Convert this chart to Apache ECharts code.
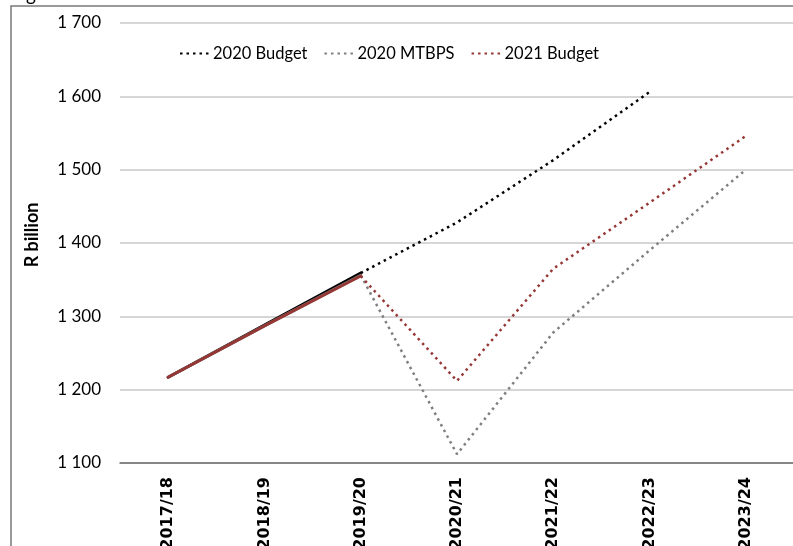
<!DOCTYPE html>
<html>
<head>
<meta charset="utf-8">
<script src="https://cdn.jsdelivr.net/npm/echarts@6/dist/echarts.min.js"></script>
<style>
  html, body { margin: 0; padding: 0; background: #fff; }
  #chart { width: 793px; height: 546px; }
</style>
</head>
<body>
<div id="chart"></div>
<script>
// Fiscal years on the category axis
const years = ['2017/18', '2018/19', '2019/20', '2020/21', '2021/22', '2022/23', '2023/24'];

// Outcomes (solid) up to 2019/20, then projections (dotted), R billion
const budget2020Actual = [1217, 1288, 1359, null, null, null, null];
const mtbps2020Actual  = [1217, 1287, 1356, null, null, null, null];
const budget2021Actual = [1217, 1287, 1355, null, null, null, null];

const budget2020Proj = [null, null, 1359, 1428, 1513, 1606, null];
const mtbps2020Proj  = [null, null, 1356, 1112, 1278, 1390, 1500];
const budget2021Proj = [null, null, 1355, 1212, 1365, 1455, 1546];

// Value-axis range and step
const yMin = 1100, yMax = 1700, yStep = 100;

const COLORS = { budget2020: '#000000', mtbps2020: '#7f7f7f', budget2021: '#953735' };
const DOTS = [2.5, 4];

function fmt(v) {
  return String(v).replace(/\B(?=(\d{3})+(?!\d))/g, ' ');
}

function solid(name, data, color) {
  return {
    name: name, type: 'line', data: data, symbol: 'none', silent: true,
    lineStyle: { color: color, width: 3, cap: 'round' }, z: 3
  };
}
function dotted(name, data, color) {
  return {
    name: name, type: 'line', data: data, symbol: 'none', silent: true,
    itemStyle: { color: color },
    lineStyle: { color: color, width: 2.5, type: DOTS, cap: 'butt' }, z: 2
  };
}

const chart = echarts.init(document.getElementById('chart'), null, { renderer: 'canvas' });
chart.setOption({
  animation: false,
  backgroundColor: '#ffffff',
  grid: { left: 120, top: 23, width: 674, height: 440, containLabel: false, outerBoundsMode: 'none' },
  legend: {
    data: ['2020 Budget', '2020 MTBPS', '2021 Budget'],
    left: 174, top: 40,
    itemWidth: 32, itemHeight: 14, itemGap: 16,
    itemStyle: { opacity: 0 },
    textStyle: { fontFamily: 'Lato', fontSize: 16.5, color: '#000', padding: [0, 0, 0, -4] },
    selectedMode: false
  },
  xAxis: {
    type: 'category', data: years, boundaryGap: true,
    axisLine: { show: true, lineStyle: { color: '#6e6e6e', width: 1.5 } },
    axisTick: { show: false },
    axisLabel: {
      rotate: 90, margin: 14, interval: 0,
      fontFamily: 'DejaVu Sans', fontWeight: 'bold', fontSize: 16, color: '#000'
    }
  },
  yAxis: {
    type: 'value', min: yMin, max: yMax, interval: yStep,
    axisLine: { show: false }, axisTick: { show: false },
    splitLine: { lineStyle: { color: '#c8c8c8', width: 1.5 } },
    axisLabel: { formatter: fmt, margin: 19, fontFamily: 'Lato', fontSize: 17, color: '#000' }
  },
  graphic: [
    // outer chart frame
    { type: 'polyline', shape: { points: [[11, 546], [11, 6], [793, 6]] },
      style: { stroke: '#7a7a7a', lineWidth: 1.5, fill: null }, z: 10 },
    // tail of the figure heading above the frame
    { type: 'text', x: 26, y: -15, style: { text: 'g', font: '19px Lato', fill: '#000' } },
    // value-axis title
    { type: 'text', x: 32, y: 235, rotation: Math.PI / 2,
      style: { text: 'R billion', font: 'bold 18px Lato', fill: '#000', align: 'center', verticalAlign: 'middle' } }
  ],
  series: [
    dotted('2020 Budget', budget2020Proj, COLORS.budget2020),
    dotted('2020 MTBPS', mtbps2020Proj, COLORS.mtbps2020),
    dotted('2021 Budget', budget2021Proj, COLORS.budget2021),
    solid('2020 Budget outcome', budget2020Actual, COLORS.budget2020),
    solid('2020 MTBPS outcome', mtbps2020Actual, COLORS.mtbps2020),
    solid('2021 Budget outcome', budget2021Actual, COLORS.budget2021)
  ]
});
</script>
</body>
</html>
